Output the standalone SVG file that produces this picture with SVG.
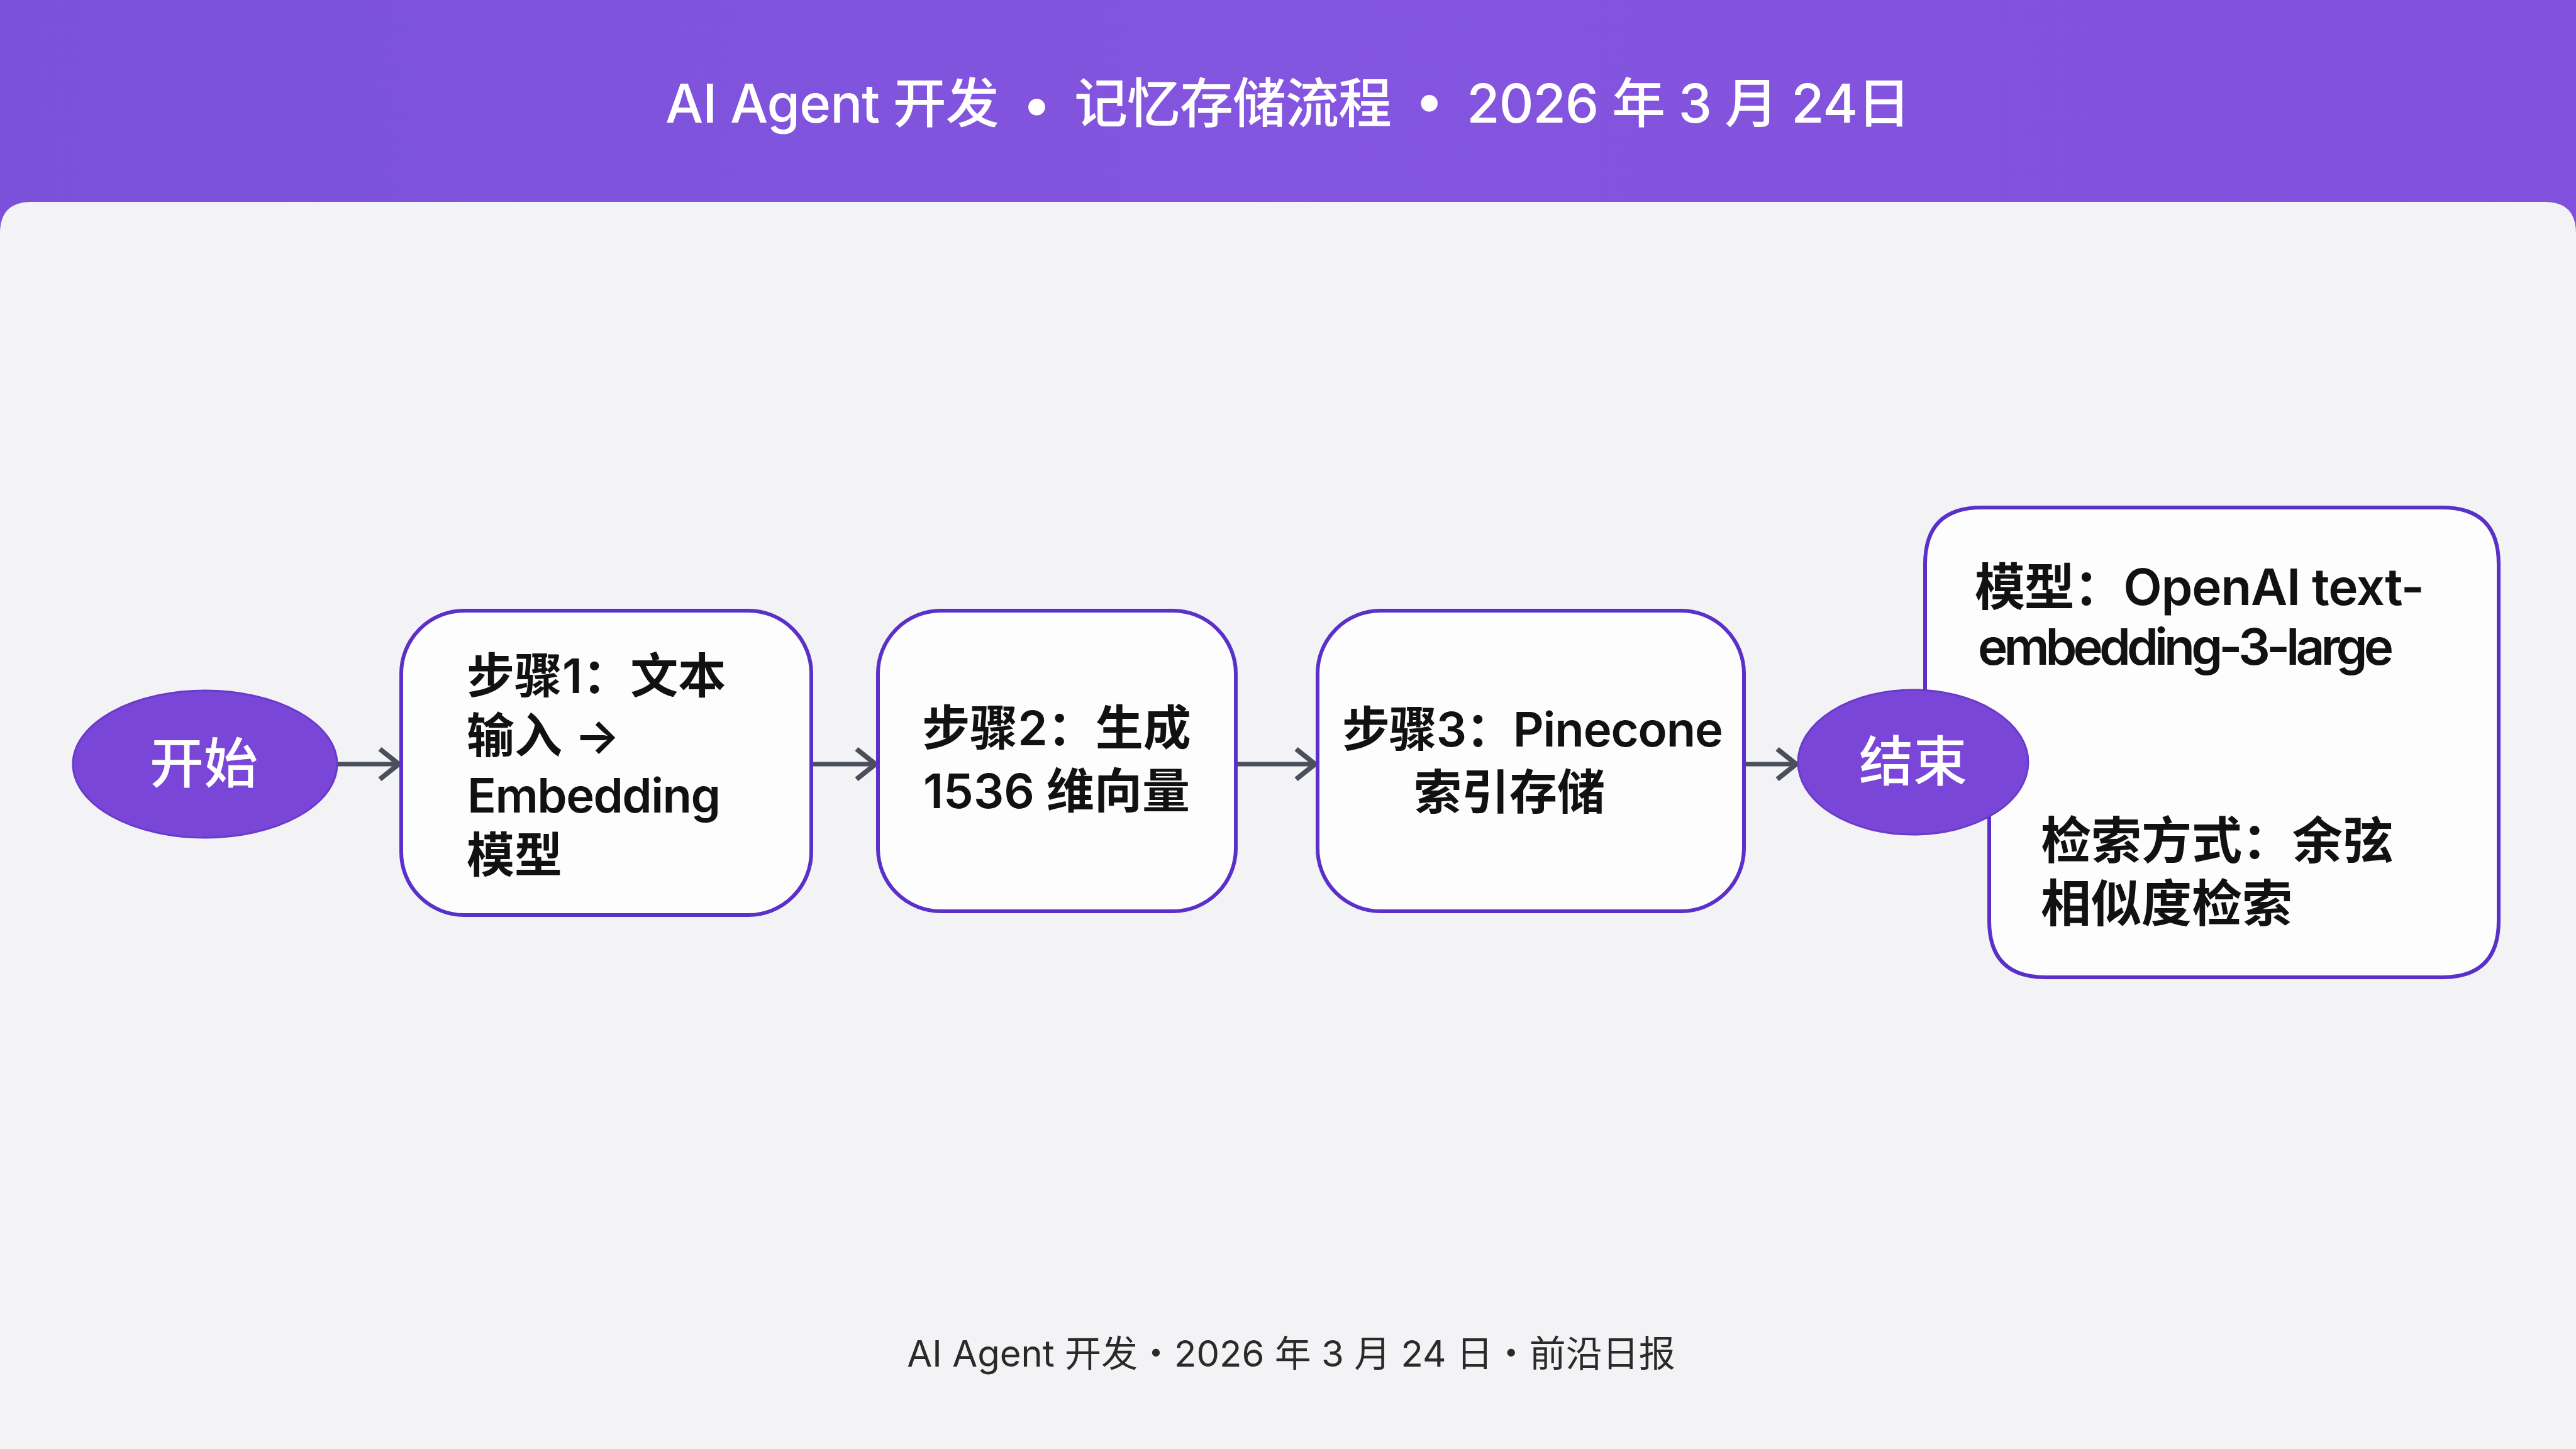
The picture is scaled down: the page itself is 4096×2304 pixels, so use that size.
<svg xmlns="http://www.w3.org/2000/svg" width="4096" height="2304" viewBox="0 0 4096 2304">
<defs>
<linearGradient id="hdr" x1="0" y1="0" x2="1" y2="0">
<stop offset="0" stop-color="#7b51da"/>
<stop offset="0.5" stop-color="#8455df"/>
<stop offset="1" stop-color="#8150dc"/>
</linearGradient>
<marker id="arr" markerUnits="userSpaceOnUse" markerWidth="60" markerHeight="60" viewBox="-40 -30 50 60" refX="0" refY="0" orient="auto">
<path d="M-30,-24 L0,0 L-30,24" fill="none" stroke="#4b4f5b" stroke-width="8" stroke-linejoin="miter"/>
</marker>
<style>
.box{fill:#fdfdfd;stroke:#5b30c8;stroke-width:6}
.term{fill:#7a46d8;stroke:#6a3acb;stroke-width:3}
.lbl{font-family:Inter,"Noto Sans CJK SC",sans-serif;font-weight:600;fill:#111111;font-size:76px}
.nlbl{font-family:Inter,"Noto Sans CJK SC",sans-serif;font-weight:600;fill:#111111;font-size:80px}
.tlbl{font-family:Inter,"Noto Sans CJK SC",sans-serif;font-weight:500;fill:#ffffff;font-size:86px;text-anchor:middle}
.edge{fill:none;stroke:#4b4f5b;stroke-width:7;marker-end:url(#arr)}
</style>
</defs>
<rect width="4096" height="2304" fill="url(#hdr)"/>
<path d="M0,371 Q0,321 50,321 L4046,321 Q4096,321 4096,371 L4096,2304 L0,2304 Z" fill="#f3f3f5"/>
<text x="2048" y="195" text-anchor="middle" font-family="Inter,'Noto Sans CJK SC',sans-serif" font-weight="500" font-size="85" fill="#ffffff" textLength="1980">AI Agent 开发<tspan dx="38">•</tspan><tspan dx="38">记忆存储流程</tspan><tspan dx="38">•</tspan><tspan dx="38">2026 年 3 月 24日</tspan></text>

<g id="connectors">
<line class="edge" x1="536" y1="1215" x2="634" y2="1215"/>
<line class="edge" x1="1290" y1="1215" x2="1392" y2="1215"/>
<line class="edge" x1="1965" y1="1215" x2="2091" y2="1215"/>
<line class="edge" x1="2773" y1="1215" x2="2856" y2="1215"/>
</g>

<g id="note">
<path class="box" d="M3151,807 L3883,807 Q3973,807 3973,897 L3973,1464 Q3973,1554 3883,1554 L3253,1554 Q3163,1554 3163,1464 L3163,1210 L3061,1200 L3061,897 Q3061,807 3151,807 Z"/>
<text class="nlbl" x="3140" y="962" textLength="715">模型：OpenAI text-</text>
<text class="nlbl" x="3145" y="1057" textLength="661">embedding-3-large</text>
<text class="nlbl" x="3245" y="1365">检索方式：余弦</text>
<text class="nlbl" x="3245" y="1465">相似度检索</text>
</g>

<g id="start">
<ellipse class="term" cx="326" cy="1215" rx="210" ry="117"/>
<text class="tlbl" x="324" y="1245">开始</text>
</g>

<g id="step1">
<rect class="box" x="638" y="971" width="652" height="484" rx="100" ry="100"/>
<text class="lbl" x="742" y="1102">步骤1：文本</text>
<text class="lbl" x="742" y="1197">输入 →</text>
<text class="lbl" x="743" y="1292" textLength="403">Embedding</text>
<text class="lbl" x="742" y="1387">模型</text>
</g>

<g id="step2">
<rect class="box" x="1396" y="971" width="569" height="478" rx="100" ry="100"/>
<text class="lbl" x="1680" y="1185" text-anchor="middle">步骤2：生成</text>
<text class="lbl" x="1680" y="1285" text-anchor="middle">1536 维向量</text>
</g>

<g id="step3">
<rect class="box" x="2095" y="971" width="678" height="478" rx="100" ry="100"/>
<text class="lbl" x="2134" y="1187" textLength="606">步骤3：Pinecone</text>
<text class="lbl" x="2400" y="1287" text-anchor="middle">索引存储</text>
</g>

<g id="end">
<ellipse class="term" cx="3042" cy="1212" rx="183" ry="115"/>
<text class="tlbl" x="3042" y="1242">结束</text>
</g>

<text x="2053" y="2173" text-anchor="middle" font-family="Inter,'Noto Sans CJK SC',sans-serif" font-weight="400" font-size="58" fill="#2a2a2a">AI Agent 开发・2026 年 3 月 24 日・前沿日报</text>
</svg>
